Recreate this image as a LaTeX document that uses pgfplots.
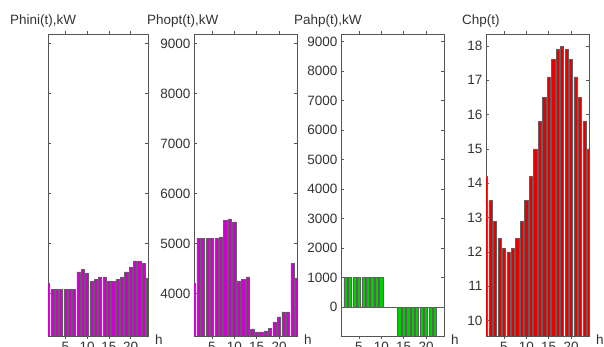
\documentclass[border=0pt]{standalone}
\usepackage{pgfplots}
\pgfplotsset{compat=1.18}
\usepackage{fontspec}
\setmainfont{Liberation Sans}
\definecolor{txt}{HTML}{333333}
\definecolor{axc}{HTML}{555555}
\definecolor{mag}{HTML}{D000D0}
\definecolor{grn}{HTML}{00D000}
\definecolor{rd}{HTML}{E80000}
\definecolor{edg}{HTML}{606060}
\pgfplotsset{
  panel/.style={
    scale only axis, height=302pt, anchor=south west,
    xmin=1, xmax=24, xtick={5,10,15,20},
    tick align=inside, tick pos=both, major tick length=3pt,
    axis line style={axc, line width=0.7pt},
    every tick/.style={axc, line width=0.7pt},
    tick label style={font=\fontsize{13.5}{15}\selectfont, text=txt},
    /pgf/number format/assume math mode=true,
    /pgf/number format/set thousands separator={},
    xlabel={h},
    xlabel style={at={(rel axis cs:1,0)}, anchor=north west, inner sep=0pt, xshift=7pt, yshift=1pt, font=\fontsize{13.5}{15}\selectfont, text=txt},
    ybar, bar width=0.72,
    every axis plot/.append style={draw=edg, line width=0.55pt},
  },
}
\newcommand{\ttl}{\fontsize{13.5}{15}\selectfont\color{txt}}
\begin{document}
\begin{tikzpicture}
% Panel 1: Phini
\begin{axis}[panel, at={(48pt,11pt)}, width=100pt,
  ymin=3150, ymax=9190, ytick={4000,5000,6000,7000,8000,9000}, yticklabels={}]
\addplot[fill=mag] coordinates {
(1,4210) (2,4080) (3,4080) (4,4080) (5,4080) (6,4080) (7,4080) (8,4430)
(9,4480) (10,4400) (11,4240) (12,4280) (13,4330) (14,4330) (15,4240) (16,4240)
(17,4280) (18,4330) (19,4430) (20,4530) (21,4650) (22,4650) (23,4600) (24,4310)};
\end{axis}
% Panel 2: Phopt
\begin{axis}[panel, at={(194pt,11pt)}, width=103pt,
  ymin=3150, ymax=9190, ytick={4000,5000,6000,7000,8000,9000}]
\addplot[fill=mag] coordinates {
(1,4210) (2,5100) (3,5100) (4,5100) (5,5100) (6,5100) (7,5130) (8,5460)
(9,5490) (10,5430) (11,4250) (12,4280) (13,4330) (14,3290) (15,3230) (16,3230)
(17,3250) (18,3300) (19,3430) (20,3530) (21,3630) (22,3630) (23,4600) (24,4310)};
\end{axis}
% Panel 3: Pahp
\begin{axis}[panel, at={(341pt,11pt)}, width=103pt,
  ymin=-970, ymax=9250, ytick={0,1000,...,9000},
  extra y ticks={0}, extra y tick labels={},
  extra y tick style={grid=major, major grid style={axc, line width=0.7pt}}]
\addplot[fill=grn] coordinates {
(1,0) (2,1020) (3,1020) (4,1020) (5,1020) (6,1020) (7,1020) (8,1020)
(9,1020) (10,1020) (11,0) (12,0) (13,0) (14,-1020) (15,-1020) (16,-1020)
(17,-1020) (18,-1020) (19,-1020) (20,-1020) (21,-1020) (22,-1020) (23,0) (24,0)};
\end{axis}
% Panel 4: Chp
\begin{axis}[panel, at={(486pt,11pt)}, width=103pt,
  ymin=9.55, ymax=18.35, ytick={10,11,...,18}]
\addplot[fill=rd] coordinates {
(1,14.2) (2,13.5) (3,12.9) (4,12.4) (5,12.1) (6,12.0) (7,12.1) (8,12.4)
(9,12.9) (10,13.5) (11,14.2) (12,15.0) (13,15.8) (14,16.5) (15,17.1) (16,17.6)
(17,17.9) (18,18.0) (19,17.9) (20,17.6) (21,17.1) (22,16.5) (23,15.8) (24,15.0)};
\end{axis}
\node[anchor=base west, inner sep=0pt] at (10pt,322pt) {\ttl Phini(t),kW};
\node[anchor=base west, inner sep=0pt] at (147pt,322pt) {\ttl Phopt(t),kW};
\node[anchor=base west, inner sep=0pt] at (294pt,322pt) {\ttl Pahp(t),kW};
\node[anchor=base west, inner sep=0pt] at (462pt,322pt) {\ttl Chp(t)};
\pgfresetboundingbox
\path[use as bounding box] (0pt,0pt) rectangle (604pt,347pt);
\end{tikzpicture}
\end{document}
